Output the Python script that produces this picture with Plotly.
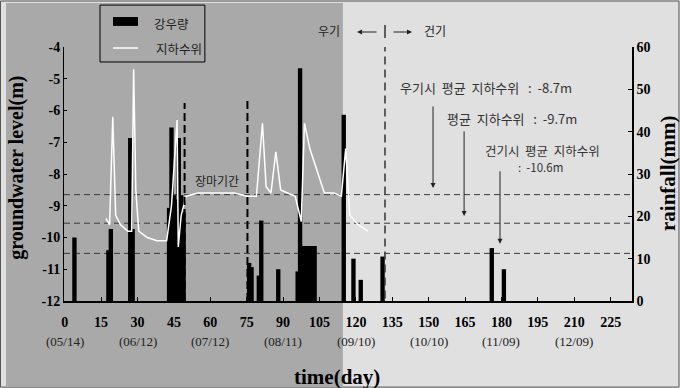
import plotly.graph_objects as go

# ---------------- data ----------------
rain_day = [4, 18, 19, 27, 28, 43, 44, 45, 46, 47, 48, 49, 76, 77, 80, 81, 88,
            96, 97, 98, 99, 100, 101, 102, 103, 115, 119, 122, 131, 176, 181]
rain_mm = [15, 12, 17, 38.5, 17, 22, 41, 25, 24, 38.5, 25, 21, 9, 8, 6, 19, 7.5,
           7, 55, 13, 13, 13, 13, 13, 13, 44, 10, 5, 10.5, 12.5, 7.5]

gw_day = [17, 18.5, 19.8, 21, 23, 26, 27.6, 28.4, 29.3, 30.5,
          34, 38, 42, 44, 46.3, 46.8, 48, 50, 55, 60,
          65, 70, 75, 79, 81.5, 83, 85, 87, 89, 92,
          95, 97.5, 98.8, 101, 103.5, 107, 111, 114, 115.8, 117.5,
          121, 125]
gw_lvl = [-9.4, -9.6, -6.2, -9.3, -9.6, -9.8, -9.8, -4.7, -8.5, -9.8,
          -10.0, -10.1, -10.1, -9.0, -6.3, -10.3, -9.3, -8.7, -8.6, -8.6,
          -8.6, -8.6, -8.7, -8.7, -6.4, -8.4, -8.6, -7.3, -8.5, -8.6,
          -8.7, -9.5, -6.4, -7.2, -7.8, -8.6, -8.6, -8.7, -7.2, -9.3,
          -9.6, -9.8]

x_ticks = list(range(0, 226, 15))
date_days = [0, 30, 60, 90, 120, 150, 180, 210]
date_labels = ["(05/14)", "(06/12)", "(07/12)", "(08/11)", "(09/10)", "(10/10)", "(11/09)", "(12/09)"]
gw_ticks = [-12, -11, -10, -9, -8, -7, -6, -5, -4]
rain_ticks = [0, 10, 20, 30, 40, 50, 60]

mean_levels = [-8.65, -9.55, -10.5]          # dashed reference lines (as drawn)
period_lines = [49.4, 75.3]                  # 장마기간 bounds
season_split = 132.0                         # 우기 / 건기 boundary

SERIF = "Liberation Serif"
KR = "Noto Sans CJK KR"
S = "\u00a0"

fig = go.Figure()
fig.add_trace(go.Bar(x=rain_day, y=rain_mm, width=1.8, yaxis="y",
                     marker=dict(color="black", line=dict(width=0)),
                     name="강우량", showlegend=False))
fig.add_trace(go.Scatter(x=gw_day, y=gw_lvl, mode="lines", yaxis="y2",
                         line=dict(color="white", width=1.5),
                         name="지하수위", showlegend=False))

shapes = []
shapes.append(dict(type="rect", xref="paper", yref="paper", x0=-0.102, x1=0.491,
                   y0=-0.335, y1=1.173, fillcolor="#a9a9a9", line=dict(width=0), layer="below"))
shapes.append(dict(type="rect", xref="paper", yref="paper", x0=-0.1118, x1=1.0827,
                   y0=-0.339, y1=1.181, line=dict(color="#555", width=1), layer="below"))
for lv in mean_levels:
    shapes.append(dict(type="line", xref="paper", yref="y2", x0=0, x1=1, y0=lv, y1=lv,
                       line=dict(color="#3a3a3a", width=1, dash="6px,4px"), layer="below"))
shapes.append(dict(type="line", xref="x", yref="paper", x0=period_lines[0], x1=period_lines[0],
                   y0=0, y1=0.78, line=dict(color="black", width=2, dash="8px,4px")))
shapes.append(dict(type="line", xref="x", yref="paper", x0=period_lines[1], x1=period_lines[1],
                   y0=0, y1=0.80, line=dict(color="black", width=2, dash="8px,4px")))
shapes.append(dict(type="line", xref="x", yref="paper", x0=season_split, x1=season_split,
                   y0=0.01, y1=1.0, line=dict(color="#333", width=1.5, dash="8px,5px")))
shapes.append(dict(type="line", xref="x", yref="paper", x0=season_split, x1=season_split,
                   y0=1.035, y1=1.087, line=dict(color="#333", width=1.5)))
shapes.append(dict(type="rect", xref="paper", yref="paper", x0=0.0634, x1=0.248,
                   y0=0.941, y1=1.165, line=dict(color="black", width=1), fillcolor="#a9a9a9"))
shapes.append(dict(type="rect", xref="paper", yref="paper", x0=0.0863, x1=0.1303,
                   y0=1.083, y1=1.118, line=dict(width=0), fillcolor="black"))
shapes.append(dict(type="line", xref="paper", yref="paper", x0=0.0863, x1=0.1303,
                   y0=0.996, y1=0.996, line=dict(color="white", width=1.5)))

ann = []


def txt(x, y, text, xref="paper", yref="paper", xanchor="center", font=None, angle=0):
    ann.append(dict(x=x, y=y, xref=xref, yref=yref, text=text, showarrow=False,
                    xanchor=xanchor, yanchor="middle", textangle=angle, font=font))


for d, t in zip(date_days, date_labels):
    txt(d, -0.161, t, xref="x", font=dict(family=SERIF, size=13, color="#222"))
txt(0.48, -0.299, "<b>time(day)</b>", font=dict(family=SERIF, size=21, color="black"))
txt(-0.083, 0.524, "<b>groundwater level(m)</b>", font=dict(family=SERIF, size=20, color="black"), angle=-90)
txt(1.0634, 0.50, "<b>rainfall(mm)</b>", font=dict(family=SERIF, size=21, color="black"), angle=-90)
txt(0.155, 1.094, "강우량", xanchor="left", font=dict(family=KR, size=12.5, color="#222"))
txt(0.1585, 0.996, "지하수위", xanchor="left", font=dict(family=KR, size=12.5, color="#222"))
txt(0.4665, 1.063, "우기", font=dict(family=KR, size=12, color="#222"))
txt(0.653, 1.063, "건기", font=dict(family=KR, size=12, color="#222"))
ann.append(dict(x=0.516, y=1.059, xref="paper", yref="paper", ax=21, ay=0, text="", showarrow=True,
                arrowhead=2, arrowsize=1, arrowwidth=1, arrowcolor="#222"))
ann.append(dict(x=0.6127, y=1.059, xref="paper", yref="paper", ax=-20, ay=0, text="", showarrow=True,
                arrowhead=2, arrowsize=1, arrowwidth=1, arrowcolor="#222"))
txt(62.8, -8.22, "장마기간", xref="x", yref="y2", font=dict(family=KR, size=12, color="#222"))
mfont = dict(family=KR, size=13, color="#333")
txt(137.4, -5.29, f"우기시{S}{S}평균{S}{S}지하수위{S}{S}{S}:{S}{S}-8.7m", xref="x", yref="y2",
    xanchor="left", font=mfont)
txt(156.8, -6.24, f"평균{S}{S}지하수위{S}{S}{S}:{S}{S}-9.7m", xref="x", yref="y2",
    xanchor="left", font=mfont)
txt(172.4, -7.27, f"건기시{S}{S}평균{S}{S}지하수위", xref="x", yref="y2", xanchor="left",
    font=dict(family=KR, size=12.5, color="#333"))
txt(186.0, -7.78, f":{S}{S}-10.6m", xref="x", yref="y2", xanchor="left",
    font=dict(family=KR, size=11.5, color="#333"))
for xd, yt, ayp in [(151.8, -8.44, -83), (164.6, -9.32, -86), (179.4, -10.2, -74)]:
    ann.append(dict(x=xd, y=yt, xref="x", yref="y2", ax=0, ay=ayp, text="", showarrow=True,
                    arrowhead=2, arrowsize=1, arrowwidth=1, arrowcolor="#222"))

tickfont = dict(family=SERIF, size=14, color="black")
fig.update_layout(
    width=680, height=388,
    margin=dict(l=64, r=48, t=47, b=87),
    paper_bgcolor="#e0e0e0", plot_bgcolor="rgba(0,0,0,0)",
    showlegend=False,
    xaxis=dict(range=[-0.3, 233.8], tickvals=x_ticks, ticktext=[f"<b>{v}</b>" for v in x_ticks],
               ticks="inside", ticklen=4, tickcolor="black", showline=True, linecolor="black",
               linewidth=2, showgrid=False, zeroline=False, tickfont=tickfont, ticklabelstandoff=7),
    yaxis=dict(side="right", range=[0, 60], tickvals=rain_ticks,
               ticktext=[f"<b>{v}</b>" for v in rain_ticks], ticks="inside", ticklen=4,
               tickcolor="black", showline=True, linecolor="black", linewidth=1.5,
               showgrid=False, zeroline=False, tickfont=tickfont),
    yaxis2=dict(overlaying="y", side="left", range=[-12, -4], tickvals=gw_ticks,
                ticktext=[f"<b>{v}</b>" for v in gw_ticks], ticks="inside",
                ticklen=3, tickcolor="black", showline=True, linecolor="black", linewidth=1,
                showgrid=False, zeroline=False, tickfont=tickfont),
    shapes=shapes, annotations=ann,
)

fig.write_html("out.html")
